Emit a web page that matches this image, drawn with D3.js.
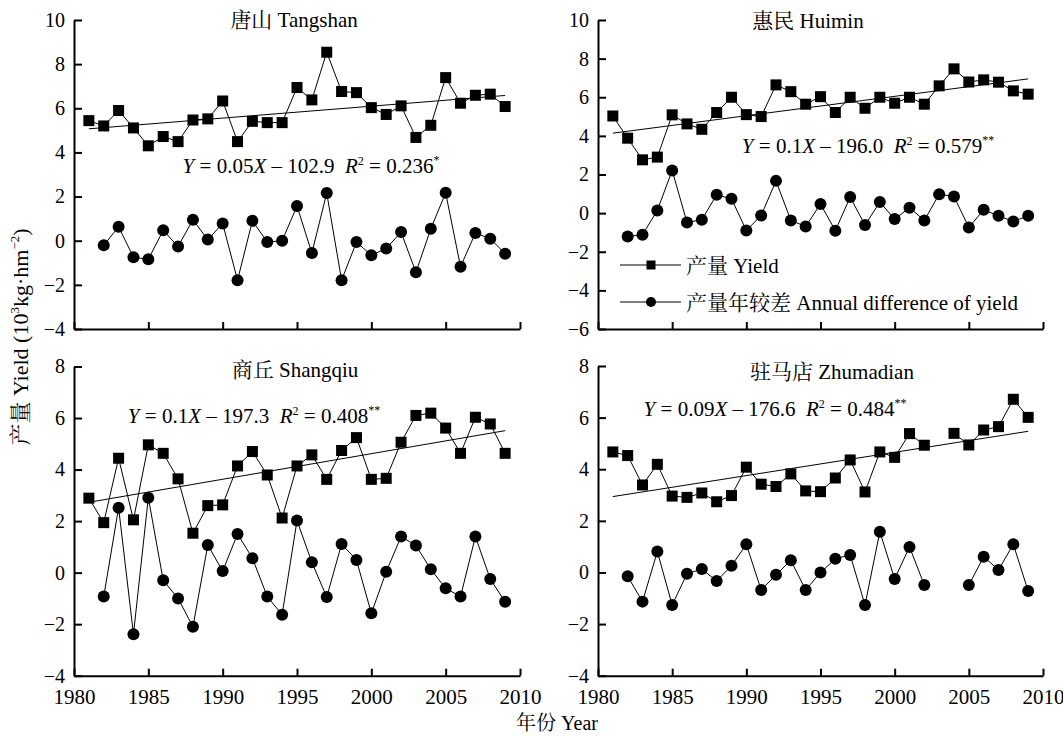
<!DOCTYPE html>
<html>
<head>
<meta charset="utf-8">
<script src="https://cdn.jsdelivr.net/npm/d3@7"></script>
<style>
body { margin: 0; background: #fff; }
svg text { font-family: "Liberation Serif", "Times New Roman", "Noto Serif CJK SC", "Noto Sans CJK SC", serif; fill: #000; }
</style>
</head>
<body>
<svg id="chart" width="1063" height="736"></svg>
<script>
const years = [1981, 1982, 1983, 1984, 1985, 1986, 1987, 1988, 1989, 1990,
    1991, 1992, 1993, 1994, 1995, 1996, 1997, 1998, 1999, 2000,
    2001, 2002, 2003, 2004, 2005, 2006, 2007, 2008, 2009];
const xTicks = [1980, 1985, 1990, 1995, 2000, 2005, 2010];
const trendYears = [1981, 2009];

// 唐山 Tangshan
const tangshanYield = [5.44, 5.20, 5.90, 5.11, 4.30, 4.72, 4.49, 5.47, 5.52, 6.33,
    4.49, 5.41, 5.35, 5.35, 6.94, 6.38, 8.54, 6.76, 6.71, 6.03,
    5.72, 6.11, 4.68, 5.23, 7.39, 6.23, 6.59, 6.64, 6.08];
const tangshanDiff = [null, -0.21, 0.63, -0.75, -0.84, 0.47, -0.26, 0.95, 0.05, 0.78,
    -1.79, 0.90, -0.06, 0.00, 1.57, -0.56, 2.16, -1.79, -0.06, -0.66,
    -0.35, 0.39, -1.43, 0.54, 2.17, -1.18, 0.35, 0.09, -0.59];
const tangshanTrend = [5.07, 6.58];
const tangshanTicks = [-4, -2, 0, 2, 4, 6, 8, 10];
const tangshanEq = ["0.05", "102.9", "0.236", "*"];

// 惠民 Huimin
const huiminYield = [5.03, 3.88, 2.76, 2.90, 5.09, 4.62, 4.34, 5.21, 6.00, 5.10,
    5.00, 6.64, 6.29, 5.64, 6.03, 5.21, 6.00, 5.43, 6.00, 5.69,
    6.00, 5.64, 6.59, 7.47, 6.79, 6.90, 6.78, 6.33, 6.16];
const huiminDiff = [null, -1.21, -1.12, 0.14, 2.21, -0.48, -0.34, 0.95, 0.74, -0.90,
    -0.12, 1.67, -0.38, -0.69, 0.47, -0.91, 0.83, -0.62, 0.57, -0.31,
    0.28, -0.38, 0.98, 0.86, -0.74, 0.17, -0.14, -0.43, -0.14];
const huiminTrend = [4.14, 6.95];
const huiminTicks = [-6, -4, -2, 0, 2, 4, 6, 8, 10];
const huiminEq = ["0.1", "196.0", "0.579", "**"];

// 商丘 Shangqiu
const shangqiuYield = [2.89, 1.94, 4.44, 2.05, 4.96, 4.63, 3.64, 1.53, 2.60, 2.63,
    4.14, 4.70, 3.79, 2.12, 4.14, 4.57, 3.62, 4.74, 5.24, 3.62,
    3.66, 5.06, 6.10, 6.19, 5.61, 4.63, 6.03, 5.77, 4.63];
const shangqiuDiff = [null, -0.93, 2.52, -2.39, 2.91, -0.30, -1.00, -2.10, 1.07, 0.06,
    1.50, 0.56, -0.93, -1.63, 2.02, 0.40, -0.95, 1.11, 0.49, -1.58,
    0.03, 1.40, 1.05, 0.13, -0.61, -0.93, 1.40, -0.25, -1.13];
const shangqiuTrend = [2.73, 5.51];
const shangqiuTicks = [-4, -2, 0, 2, 4, 6, 8];
const shangqiuEq = ["0.1", "197.3", "0.408", "**"];

// 驻马店 Zhumadian (2003 missing)
const zhumadianYield = [4.67, 4.53, 3.39, 4.19, 2.96, 2.91, 3.08, 2.74, 2.98, 4.08,
    3.42, 3.33, 3.82, 3.16, 3.13, 3.66, 4.36, 3.12, 4.67, 4.46,
    5.38, 4.93, null, 5.39, 4.94, 5.52, 5.65, 6.71, 6.01];
const zhumadianDiff = [null, -0.15, -1.13, 0.81, -1.26, -0.05, 0.13, -0.33, 0.26, 1.09,
    -0.68, -0.09, 0.47, -0.68, 0.00, 0.53, 0.68, -1.26, 1.58, -0.25,
    0.99, -0.49, null, null, -0.49, 0.61, 0.10, 1.09, -0.72];
const zhumadianTrend = [2.94, 5.47];
const zhumadianTicks = [-4, -2, 0, 2, 4, 6, 8];
const zhumadianEq = ["0.09", "176.6", "0.484", "**"];

const svg = d3.select('#chart');

const panels = [
    { title: "唐山 Tangshan", yields: tangshanYield, diffs: tangshanDiff, trend: tangshanTrend,
      ticks: tangshanTicks, eq: tangshanEq,
      left: 74, right: 520, top: 20, bottom: 329, titleX: 294, titleY: 27, eqX: 311, eqY: 173, xLabels: false },
    { title: "惠民 Huimin", yields: huiminYield, diffs: huiminDiff, trend: huiminTrend,
      ticks: huiminTicks, eq: huiminEq,
      left: 598, right: 1043, top: 20, bottom: 329, titleX: 808, titleY: 28, eqX: 868, eqY: 153, xLabels: false, legend: true },
    { title: "商丘 Shangqiu", yields: shangqiuYield, diffs: shangqiuDiff, trend: shangqiuTrend,
      ticks: shangqiuTicks, eq: shangqiuEq,
      left: 74, right: 520, top: 366.5, bottom: 675.7, titleX: 295, titleY: 377, eqX: 254, eqY: 423, xLabels: true },
    { title: "驻马店 Zhumadian", yields: zhumadianYield, diffs: zhumadianDiff, trend: zhumadianTrend,
      ticks: zhumadianTicks, eq: zhumadianEq,
      left: 598, right: 1043, top: 366, bottom: 675.7, titleX: 832, titleY: 379, eqX: 775, eqY: 416, xLabels: true }
];

const fmtTick = d => d < 0 ? "\u2212" + Math.abs(d) : String(d);

/** draws a square marker centred on (cx, cy) */
function squareMarker(g, cx, cy, size) {
    g.append("rect")
    .attr("x", cx - size / 2)
    .attr("y", cy - size / 2)
    .attr("width", size)
    .attr("height", size)
    .attr("fill", "#000");
}

/** draws one of the four station panels
    @param {Object} p - panel description
 */
function drawPanel(p) {
    const x = d3.scaleLinear().domain([1980, 2010]).range([p.left, p.right]);
    const y = d3.scaleLinear().domain(d3.extent(p.ticks)).range([p.bottom, p.top]);
    const g = svg.append("g");

    const yAxis = g.append("g")
    .attr("transform", `translate(${p.left},0)`)
    .call(d3.axisLeft(y).tickValues(p.ticks).tickSize(-8).tickSizeOuter(0).tickPadding(9).tickFormat(fmtTick));

    const xAxis = g.append("g")
    .attr("transform", `translate(0,${p.bottom})`)
    .call(d3.axisBottom(x).tickValues(xTicks).tickSize(-7).tickSizeOuter(0).tickPadding(9)
        .tickFormat(p.xLabels ? d3.format("d") : () => ""));

    [yAxis, xAxis].forEach(a => {
        a.attr("font-family", null).attr("font-size", 20);
        a.selectAll("path, line").attr("stroke", "#000").attr("stroke-width", 2);
    });
    xAxis.attr("font-size", 21);
    xAxis.selectAll("text").attr("dy", "0.9em");

    const yieldPts = years.map((yr, i) => ({ yr: yr, v: p.yields[i] }));
    const diffPts = years.map((yr, i) => ({ yr: yr, v: p.diffs[i] }));

    const line = d3.line()
    .defined(d => d.v != null)
    .x(d => x(d.yr))
    .y(d => y(d.v));

    // trend line
    g.append("line")
    .attr("x1", x(trendYears[0])).attr("y1", y(p.trend[0]))
    .attr("x2", x(trendYears[1])).attr("y2", y(p.trend[1]))
    .attr("stroke", "#000").attr("stroke-width", 1);

    g.append("path").datum(yieldPts).attr("d", line)
    .attr("fill", "none").attr("stroke", "#000").attr("stroke-width", 1);
    g.append("path").datum(diffPts.slice(1)).attr("d", line)
    .attr("fill", "none").attr("stroke", "#000").attr("stroke-width", 1);

    yieldPts.filter(d => d.v != null).forEach(d => squareMarker(g, x(d.yr), y(d.v), 11));

    g.selectAll("circle.diff")
    .data(diffPts.filter(d => d.v != null))
    .enter()
    .append("circle")
    .attr("class", "diff")
    .attr("cx", d => x(d.yr))
    .attr("cy", d => y(d.v))
    .attr("r", 6)
    .attr("fill", "#000");

    g.append("text")
    .attr("x", p.titleX).attr("y", p.titleY)
    .attr("text-anchor", "middle")
    .attr("font-size", 21)
    .text(p.title);

    // regression equation
    const eq = g.append("text")
    .attr("x", p.eqX).attr("y", p.eqY)
    .attr("text-anchor", "middle")
    .attr("font-size", 21)
    .style("white-space", "pre");
    eq.append("tspan").attr("font-style", "italic").text("Y");
    eq.append("tspan").text(" = " + p.eq[0]);
    eq.append("tspan").attr("font-style", "italic").text("X");
    eq.append("tspan").text(" \u2013 " + p.eq[1] + "  ");
    eq.append("tspan").attr("font-style", "italic").text("R");
    eq.append("tspan").attr("font-size", 12).attr("dy", -8).text("2");
    eq.append("tspan").attr("dy", 8).text(" = " + p.eq[2]);
    eq.append("tspan").attr("font-size", 12).attr("dy", -9).text(p.eq[3]);

    if (p.legend) {
        const rows = [
            { label: "产量 Yield", shape: "square", ly: 265 },
            { label: "产量年较差 Annual difference of yield", shape: "circle", ly: 302 }
        ];
        rows.forEach(r => {
            g.append("line")
            .attr("x1", 620).attr("x2", 681).attr("y1", r.ly).attr("y2", r.ly)
            .attr("stroke", "#000").attr("stroke-width", 1);
            if (r.shape === "square") {
                squareMarker(g, 651, r.ly, 9);
            } else {
                g.append("circle").attr("cx", 651).attr("cy", r.ly).attr("r", 5).attr("fill", "#000");
            }
            g.append("text")
            .attr("x", 686).attr("y", r.ly + 8)
            .attr("font-size", 21)
            .text(r.label);
        });
    }
}

panels.forEach(drawPanel);

// shared axis titles
const yTitle = svg.append("text")
.attr("transform", "translate(28,337) rotate(-90)")
.attr("text-anchor", "middle")
.attr("font-size", 22);
yTitle.append("tspan").text("产量 Yield (10");
yTitle.append("tspan").attr("font-size", 13).attr("dy", -9).text("3");
yTitle.append("tspan").attr("dy", 9).text("kg\u00b7hm");
yTitle.append("tspan").attr("font-size", 13).attr("dy", -9).text("\u22122");
yTitle.append("tspan").attr("dy", 9).text(")");

svg.append("text")
.attr("x", 557).attr("y", 730)
.attr("text-anchor", "middle")
.attr("font-size", 20)
.text("年份 Year");
</script>
</body>
</html>
